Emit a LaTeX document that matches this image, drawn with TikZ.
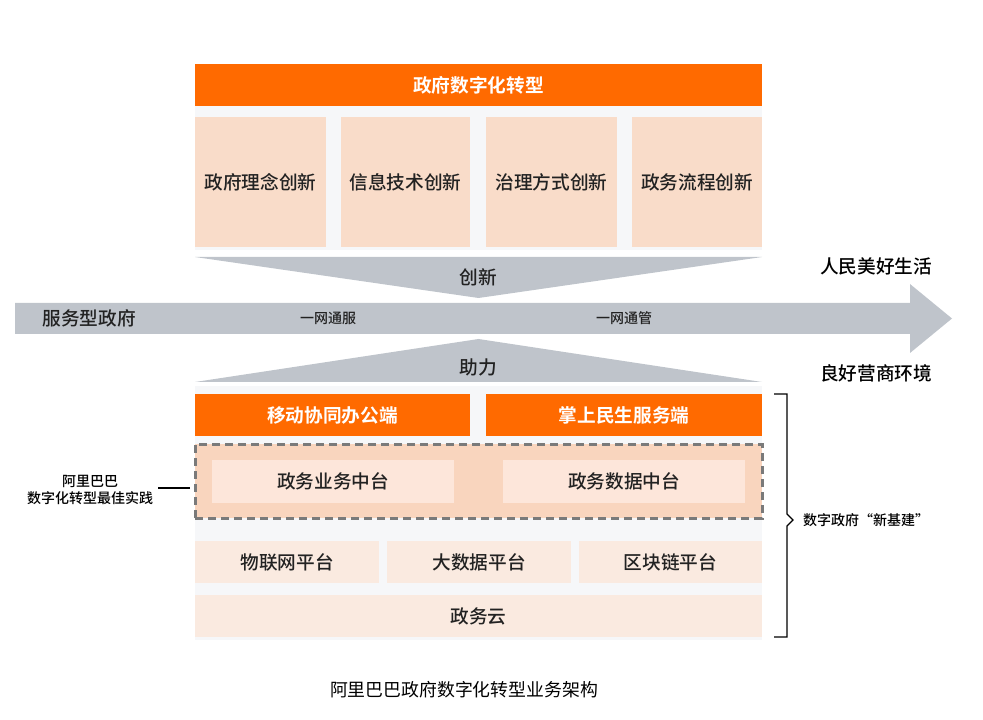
\documentclass[tikz,border=0pt]{standalone}
\usepackage{fontspec}
\setmainfont{Noto Sans CJK SC}[BoldFont={Noto Sans CJK SC Bold}]
\newfontfamily\cjkm{Noto Sans CJK SC Medium}
\definecolor{aliorange}{HTML}{FF6A00}
\definecolor{peach}{HTML}{F9DCC9}
\definecolor{peachlight}{HTML}{FAEAE0}
\definecolor{dashfill}{HTML}{F9D5BE}
\definecolor{innerfill}{HTML}{FDE6DA}
\definecolor{arrowgray}{HTML}{BFC4CB}
\definecolor{panel}{HTML}{F6F7F9}
\definecolor{dashgray}{HTML}{7A7A7A}
\definecolor{txt}{HTML}{222222}
\def\u{0.75pt}
\tikzset{
  every node/.style={inner sep=0pt, outer sep=0pt, text=txt},
  obox/.style={fill=aliorange, text=white, font=\fontsize{14}{16}\selectfont\bfseries},
  pbox/.style={fill=peach, font=\fontsize{14}{16}\selectfont\cjkm},
  lbox/.style={fill=peachlight, font=\fontsize{14}{16}\selectfont\cjkm},
  ibox/.style={fill=innerfill, font=\fontsize{14}{16}\selectfont\cjkm},
  bigtxt/.style={font=\fontsize{14}{16}\selectfont\cjkm},
  smalltxt/.style={font=\fontsize{10.5}{13}\selectfont\cjkm},
}
\begin{document}
\begin{tikzpicture}[x=0.75pt,y=-0.75pt]
\useasboundingbox (0,0) rectangle (983,720);
% light panels
\fill[panel] (195,106) rectangle (762,250);
\fill[panel] (195,386) rectangle (762,640);
% top
\node[obox, minimum width=567*\u, minimum height=42*\u] (title) at (478.5,85) {政府数字化转型};
\node[pbox, minimum width=131*\u, minimum height=130*\u] (b1) at (260.5,182) {政府理念创新};
\node[pbox, minimum width=129*\u, minimum height=130*\u] (b2) at (405.5,182) {信息技术创新};
\node[pbox, minimum width=131*\u, minimum height=130*\u] (b3) at (551.5,182) {治理方式创新};
\node[pbox, minimum width=130*\u, minimum height=130*\u] (b4) at (697,182) {政务流程创新};
% innovation triangle
\fill[arrowgray] (195,257) -- (762,257) -- (478.5,298) -- cycle;
\node[bigtxt] (cx) at (478.5,277) {创新};
% main arrow
\fill[arrowgray] (15,303) -- (910,303) -- (910,284) -- (952,318.5) -- (910,353) -- (910,334) -- (15,334) -- cycle;
\node[bigtxt] (fw) at (89,318.5) {服务型政府};
\node[smalltxt] (yw1) at (328,318.5) {一网通服};
\node[smalltxt] (yw2) at (624,318.5) {一网通管};
\node[bigtxt, text=black] (rm) at (876,266) {人民美好生活};
\node[bigtxt, text=black] (lh) at (876,373) {良好营商环境};
% support triangle
\fill[arrowgray] (195,382) -- (762,382) -- (478.5,339) -- cycle;
\node[bigtxt] (zl) at (478.5,367) {助力};
% orange terminals
\node[obox, minimum width=275*\u, minimum height=42*\u] (yd) at (332.5,415) {移动协同办公端};
\node[obox, minimum width=276*\u, minimum height=42*\u] (zs) at (624,415) {掌上民生服务端};
% dashed middle platform
\node[fill=dashfill, draw=dashgray, line width=2.25pt, dash pattern=on 6pt off 3.75pt, minimum width=567*\u, minimum height=74*\u] (dash) at (478.5,481.5) {};
\node[ibox, minimum width=242*\u, minimum height=43*\u] (yw) at (333,481.5) {政务业务中台};
\node[ibox, minimum width=242*\u, minimum height=43*\u] (sj) at (624,481.5) {政务数据中台};
% platforms
\node[lbox, minimum width=184*\u, minimum height=42*\u] (wl) at (287,562) {物联网平台};
\node[lbox, minimum width=184*\u, minimum height=42*\u] (dsj) at (479,562) {大数据平台};
\node[lbox, minimum width=183*\u, minimum height=42*\u] (qkl) at (670.5,562) {区块链平台};
\node[lbox, minimum width=567*\u, minimum height=42*\u] (cloud) at (478.5,616) {政务云};
% left label
\node[smalltxt, align=center, text=black] (ali) at (90,490) {阿里巴巴\\数字化转型最佳实践};
\coordinate (la) at (158,488);
\coordinate (lb) at (190,488);
\draw[line width=0.8pt] (la) -- (lb);
% right bracket
\coordinate (bt) at (774,394);
\coordinate (bb) at (774,637);
\draw[line width=0.9pt] (bt) -- (787,394) -- (787,514) -- (793,520) -- (787,526) -- (787,637) -- (bb);
\node[smalltxt, text=black] (xjj) at (866,520) {数字政府“新基建”};
% caption
\node[font=\fontsize{13.4}{16}\selectfont, text=black] (cap) at (464,690) {阿里巴巴政府数字化转型业务架构};
\end{tikzpicture}
\end{document}
